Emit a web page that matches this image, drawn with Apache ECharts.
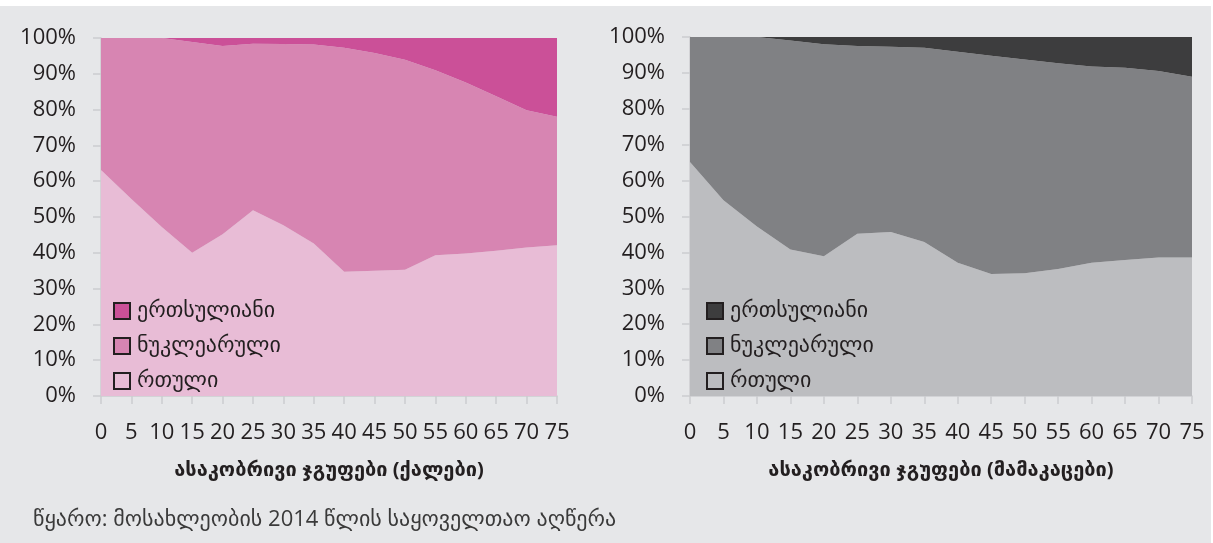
<!DOCTYPE html>
<html>
<head>
<meta charset="utf-8">
<script src="https://cdn.jsdelivr.net/npm/echarts@6/dist/echarts.min.js"></script>
<style>
  html, body { margin: 0; padding: 0; background: #fff; }
  #chart { width: 1213px; height: 543px; }
</style>
</head>
<body>
<div id="chart"></div>
<script>
  // age groups on the x axis
  var ages = ['0', '5', '10', '15', '20', '25', '30', '35', '40', '45', '50', '55', '60', '65', '70', '75'];
  var names = ['ერთსულიანი', 'ნუკლეარული', 'რთული'];

  // women, % of households by type
  var womenComplex = [63.1, 55.0, 47.2, 40.0, 45.2, 51.9, 47.7, 42.6, 34.7, 35.0, 35.3, 39.3, 39.8, 40.6, 41.5, 42.1];
  var womenNuclear = [36.9, 45.0, 52.8, 58.9, 52.6, 46.5, 50.6, 55.6, 62.6, 60.8, 58.6, 51.7, 47.8, 43.1, 38.3, 35.9];
  var womenSingle = [0, 0, 0, 1.1, 2.2, 1.6, 1.7, 1.8, 2.7, 4.2, 6.1, 9.0, 12.4, 16.3, 20.2, 22.0];

  // men
  var menComplex = [65.2, 54.5, 47.2, 40.8, 38.9, 45.2, 45.7, 42.9, 37.1, 34.0, 34.2, 35.4, 37.1, 37.9, 38.6, 38.6];
  var menNuclear = [34.8, 45.5, 52.8, 58.2, 59.1, 52.3, 51.6, 54.1, 58.8, 60.8, 59.5, 57.3, 54.7, 53.5, 51.9, 50.3];
  var menSingle = [0, 0, 0, 1.0, 2.0, 2.5, 2.7, 3.0, 4.1, 5.2, 6.3, 7.3, 8.2, 8.6, 9.5, 11.1];

  var pink = ['#E8BCD6', '#D785B2', '#CB5098'];
  var grey = ['#BCBDC0', '#808184', '#3D3D3E'];

  var font = "'Open Sans', 'DejaVu Sans', sans-serif";
  var textColor = '#231F20';
  var lineColor = '#CCCDCF';

  function xAxis(idx, title) {
    return {
      type: 'category',
      gridIndex: idx,
      data: ages,
      boundaryGap: false,
      name: title,
      nameLocation: 'middle',
      nameGap: 64,
      nameTextStyle: {color: textColor, fontSize: 20, fontWeight: 'bold', fontFamily: font},
      axisLine: {lineStyle: {color: lineColor, width: 1.5}},
      axisTick: {show: true, length: 8, lineStyle: {color: lineColor, width: 1.5}},
      axisLabel: {interval: 0, color: textColor, fontSize: 22, fontFamily: font, margin: 26},
      splitLine: {show: false}
    };
  }

  function yAxis(idx) {
    return {
      type: 'value',
      gridIndex: idx,
      min: 0,
      max: 100,
      interval: 10,
      axisLine: {show: true, lineStyle: {color: lineColor, width: 1.5}},
      axisTick: {show: true, length: 8, lineStyle: {color: lineColor, width: 1.5}},
      axisLabel: {color: textColor, fontSize: 22, fontFamily: font, margin: 25, formatter: '{value}%'},
      splitLine: {show: false}
    };
  }

  function area(name, idx, values, color) {
    return {
      name: name,
      type: 'line',
      xAxisIndex: idx,
      yAxisIndex: idx,
      stack: 'total' + idx,
      data: values,
      symbol: 'none',
      lineStyle: {width: 0},
      areaStyle: {color: color, opacity: 1},
      itemStyle: {color: color, borderColor: '#231F20', borderWidth: 3},
      emphasis: {disabled: true},
      silent: true
    };
  }

  function legend(idx, left) {
    return {
      orient: 'vertical',
      left: left,
      top: 299,
      padding: 0,
      itemWidth: 16,
      itemHeight: 16,
      itemGap: 11,
      icon: 'rect',
      data: names.map(function (n) {
        return idx == 0 ? n : {name: n + ' '};
      }),
      textStyle: {color: textColor, fontSize: 22, fontFamily: font, lineHeight: 24, padding: [0, 0, 0, 2]},
      selectedMode: false
    };
  }

  var chart = echarts.init(document.getElementById('chart'));
  chart.setOption({
    backgroundColor: '#E6E7E9',
    animation: false,
    legend: [legend(0, 113), legend(1, 706)],
    grid: [
      {left: 101, right: 656, top: 38, bottom: 147},
      {left: 690, right: 21, top: 37, bottom: 147}
    ],
    xAxis: [
      xAxis(0, 'ასაკობრივი ჯგუფები (ქალები)'),
      xAxis(1, 'ასაკობრივი ჯგუფები (მამაკაცები)')
    ],
    yAxis: [yAxis(0), yAxis(1)],
    series: [
      area(names[2], 0, womenComplex, pink[0]),
      area(names[1], 0, womenNuclear, pink[1]),
      area(names[0], 0, womenSingle, pink[2]),
      area(names[2] + ' ', 1, menComplex, grey[0]),
      area(names[1] + ' ', 1, menNuclear, grey[1]),
      area(names[0] + ' ', 1, menSingle, grey[2])
    ],
    graphic: [
      {type: 'rect', left: 0, top: 0, shape: {width: 1213, height: 6}, style: {fill: '#fff'}},
      {type: 'rect', left: 1211, top: 0, shape: {width: 2, height: 543}, style: {fill: '#fff'}},
      {
        type: 'text',
        left: 33,
        top: 509,
        style: {
          text: 'წყარო: მოსახლეობის 2014 წლის საყოველთაო აღწერა',
          fill: '#3A3A3A',
          fontSize: 22,
          fontFamily: font
        }
      }
    ]
  });
</script>
</body>
</html>
